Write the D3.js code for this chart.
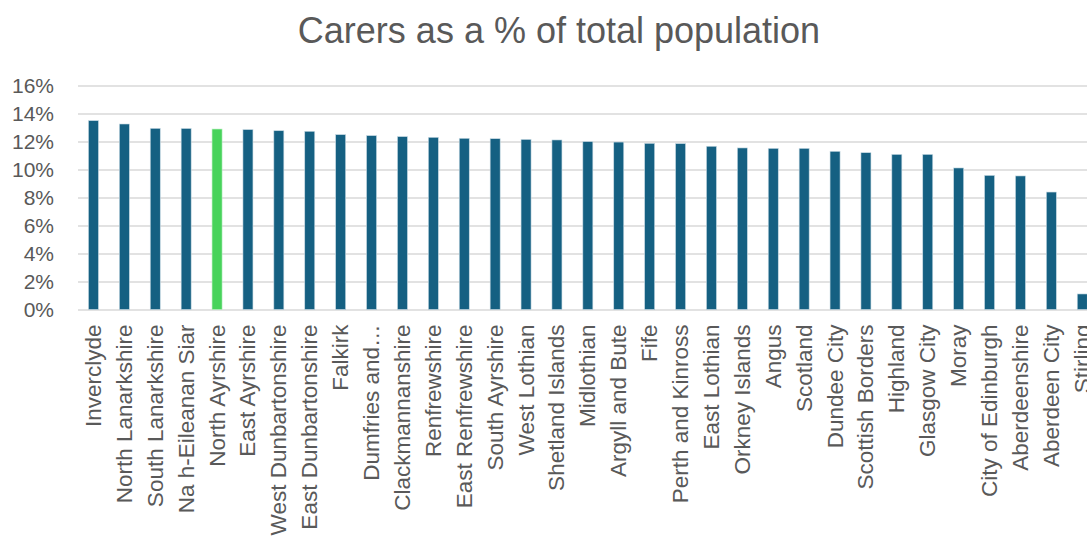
<!DOCTYPE html>
<html>
<head>
<meta charset="utf-8">
<script src="https://cdn.jsdelivr.net/npm/d3@7"></script>
<style>
  html, body { margin: 0; padding: 0; background: #fff; overflow: hidden; }
  svg { display: block; }
</style>
</head>
<body>
<svg id="chart" width="1087" height="542"></svg>
<script>
// Carers as a share of each council area's population
const areas = [
  "Inverclyde", "North Lanarkshire", "South Lanarkshire", "Na h-Eileanan Siar",
  "North Ayrshire", "East Ayrshire", "West Dunbartonshire", "East Dunbartonshire",
  "Falkirk", "Dumfries and Galloway", "Clackmannanshire", "Renfrewshire",
  "East Renfrewshire", "South Ayrshire", "West Lothian", "Shetland Islands",
  "Midlothian", "Argyll and Bute", "Fife", "Perth and Kinross", "East Lothian",
  "Orkney Islands", "Angus", "Scotland", "Dundee City", "Scottish Borders",
  "Highland", "Glasgow City", "Moray", "City of Edinburgh", "Aberdeenshire",
  "Aberdeen City", "Stirling"
];
const carerPct = [
  13.49, 13.25, 12.94, 12.93, 12.89, 12.85, 12.77, 12.73,
  12.49, 12.42, 12.35, 12.30, 12.23, 12.20, 12.15, 12.11,
  11.99, 11.96, 11.87, 11.85, 11.66, 11.54, 11.51, 11.51,
  11.30, 11.20, 11.08, 11.08, 10.11, 9.58, 9.54, 8.39, 1.11
];
const yTicks = [0, 2, 4, 6, 8, 10, 12, 14, 16];
const highlightArea = "North Ayrshire";
const shortLabels = { "Dumfries and Galloway": "Dumfries and\u2026" };

const svg = d3.select("#chart");
const font = "'Liberation Sans', Arial, sans-serif";
const textColor = "#595959";

const plot = { left: 78, top: 85.5, bottom: 309.5, right: 1097.7 };

const x = d3.scaleBand()
  .domain(areas)
  .range([plot.left, plot.right])
  .paddingInner(0.676)
  .paddingOuter(0.338);

const y = d3.scaleLinear()
  .domain([0, 16])
  .range([plot.bottom, plot.top]);

// Title
svg.append("text")
  .attr("x", 559)
  .attr("y", 43)
  .attr("text-anchor", "middle")
  .attr("font-family", font)
  .attr("font-size", 36)
  .attr("fill", textColor)
  .text("Carers as a % of total population");

// Horizontal gridlines and percentage labels
const yAxis = d3.axisLeft(y)
  .tickValues(yTicks)
  .tickSize(-(plot.right - plot.left))
  .tickPadding(24)
  .tickFormat(d => d + "%");

const gy = svg.append("g")
  .attr("transform", `translate(${plot.left},0)`)
  .call(yAxis);
gy.select(".domain").remove();
gy.selectAll(".tick line")
  .attr("stroke", "#d9d9d9")
  .attr("stroke-width", 1.5);
gy.selectAll(".tick text")
  .attr("font-family", font)
  .attr("font-size", 21)
  .attr("fill", textColor);

// Bars
svg.append("g")
  .selectAll("rect")
  .data(areas.map((a, i) => ({ area: a, value: carerPct[i] })))
  .join("rect")
  .attr("x", d => x(d.area))
  .attr("width", x.bandwidth())
  .attr("y", d => y(d.value))
  .attr("height", d => y(0) - y(d.value))
  .attr("fill", d => d.area === highlightArea ? "#47d35a" : "#156082")
  .attr("stroke", d => d.area === highlightArea ? "#b9efc0" : "#c9dbe4")
  .attr("stroke-width", 0.6);

// Category axis with rotated labels
const xAxis = d3.axisBottom(x)
  .tickSize(0)
  .tickPadding(0)
  .tickFormat(d => shortLabels[d] || d);

const gx = svg.append("g")
  .attr("transform", `translate(0,${plot.bottom})`)
  .call(xAxis);
gx.select(".domain").remove();
gx.selectAll(".tick text")
  .attr("font-family", font)
  .attr("font-size", 22.5)
  .attr("fill", textColor)
  .attr("text-anchor", "end")
  .attr("dy", null)
  .attr("y", 0)
  .attr("transform", "translate(0,15) rotate(-90)")
  .attr("x", 0)
  .attr("dominant-baseline", "central");
</script>
</body>
</html>
